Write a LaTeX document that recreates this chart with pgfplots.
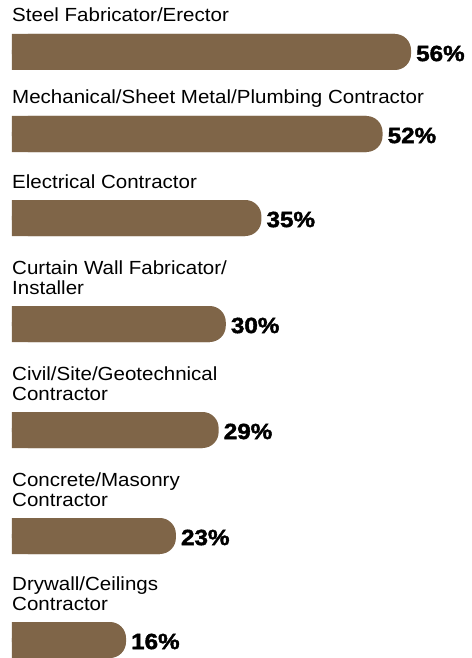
\documentclass[border=0pt]{standalone}
\usepackage{fontspec}
\setmainfont{Liberation Sans}[FakeStretch=1.08]
\newfontfamily\heavy{Liberation Sans}[FakeStretch=1.1, BoldFeatures={FakeBold=2}]
\usepackage{pgfplots}
\pgfplotsset{compat=1.18}
\usepackage{pgfplotstable}
\definecolor{barbrown}{RGB}{127,101,72}

% pos = bar centre (pt from top), val = share in %
\pgfplotstableread{
pos val
52  56
134 52
218 35
324 30
430 29
536 23
640 16
}\shares

\begin{document}
\begin{tikzpicture}
\begin{axis}[
  at={(12pt,0pt)}, anchor=south west,
  scale only axis, width=459pt, height=658pt,
  xmin=0, xmax=64.42, ymin=0, ymax=658, y dir=reverse,
  axis line style={draw=none}, tick style={draw=none},
  xtick=\empty,
  ytick={52,134,218,324,430,536,640},
  yticklabels={
    {\parbox[b]{300pt}{\raggedright Steel Fabricator/Erector}},
    {\parbox[b]{450pt}{\raggedright Mechanical/Sheet Metal/Plumbing Contractor}},
    {\parbox[b]{300pt}{\raggedright Electrical Contractor}},
    {\parbox[b]{300pt}{\raggedright Curtain Wall Fabricator/\\Installer}},
    {\parbox[b]{300pt}{\raggedright Civil/Site/Geotechnical\\Contractor}},
    {\parbox[b]{300pt}{\raggedright Concrete/Masonry\\Contractor}},
    {\parbox[b]{300pt}{\raggedright Drywall/Ceilings\\Contractor}}},
  yticklabel style={anchor=base west, inner sep=0pt, yshift=30pt, font=\fontsize{19}{20}\selectfont},
  /pgf/number format/assume math mode=true,
]
\addplot[xbar, bar width=36, bar shift=0pt, fill=barbrown, draw=none, xshift=-16pt]
  table[x=val, y=pos] {\shares};
\addplot[xbar, bar width=36, bar shift=0pt, fill=barbrown, draw=none, rounded corners=16pt,
  nodes near coords={\pgfmathprintnumber{\pgfplotspointmeta}\%}, point meta=x,
  every node near coord/.append style={anchor=west, inner sep=0pt, xshift=5pt, yshift=-1.5pt, text=black,
    font=\heavy\bfseries\fontsize{22}{24}\selectfont}]
  table[x=val, y=pos] {\shares};
\end{axis}
\path (0,0) rectangle (471pt,658pt);
\end{tikzpicture}
\end{document}
